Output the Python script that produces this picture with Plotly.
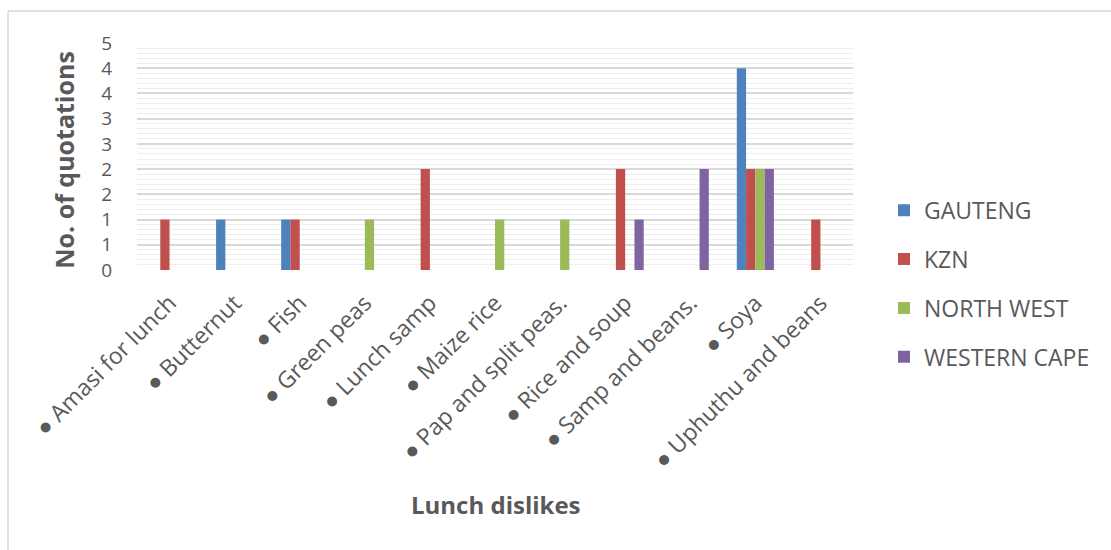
import plotly.graph_objects as go

# Lunch dislikes by province: number of quotations per food item
categories = [
    "Amasi for lunch", "Butternut", "Fish", "Green peas", "Lunch samp",
    "Maize rice", "Pap and split peas.", "Rice and soup", "Samp and beans.",
    "Soya", "Uphuthu and beans",
]
gauteng = [0, 1, 1, 0, 0, 0, 0, 0, 0, 4, 0]
kzn = [1, 0, 1, 0, 2, 0, 0, 2, 0, 2, 1]
north_west = [0, 0, 0, 1, 0, 1, 1, 0, 0, 2, 0]
western_cape = [0, 0, 0, 0, 0, 0, 0, 1, 2, 2, 0]

series_names = ["GAUTENG", "KZN", "NORTH WEST", "WESTERN CAPE"]
series_values = [gauteng, kzn, north_west, western_cape]
series_colors = ["#4F81BD", "#C0504D", "#9BBB59", "#8064A2"]

y_tick_values = [0, 0.5, 1, 1.5, 2, 2.5, 3, 3.5, 4, 4.5]
y_tick_labels = ["0", "1", "1", "2", "2", "3", "3", "4", "4", "5"]

FONT = "Open Sans"
TEXT_GREY = "#595959"

W, H = 1111, 550
L, R, T, B = 137, 1111 - 853, 43, 550 - 270.5
PW, PH = W - L - R, H - T - B

fig = go.Figure()
for name, vals, col in zip(series_names, series_values, series_colors):
    fig.add_trace(go.Bar(
        x=["\u25CF " + c for c in categories],
        y=vals,
        name=name,
        legendgroup=name,
        marker=dict(color=col, line=dict(width=0)),
    ))


def px_x(px):
    return (px - L) / PW


def px_y(py):
    return (H - B - py) / PH


fig.update_layout(
    width=W, height=H,
    margin=dict(l=L, r=R, t=T, b=B, autoexpand=False),
    paper_bgcolor="white",
    plot_bgcolor="white",
    barmode="group",
    bargap=0.43,
    bargroupgap=0,
    font=dict(family=FONT, color=TEXT_GREY),
    legend=dict(
        x=px_x(884), y=px_y(189), xanchor="left", yanchor="top",
        font=dict(family=FONT, size=23, color=TEXT_GREY),
        tracegroupgap=16,
        itemwidth=30,
        bgcolor="rgba(0,0,0,0)",
    ),
    xaxis=dict(
        type="category",
        tickangle=-45,
        tickfont=dict(family=FONT, size=23, color=TEXT_GREY),
        ticklabelstandoff=14,
        showgrid=False,
        showline=False,
        ticks="",
        automargin=False,
    ),
    yaxis=dict(
        range=[0, 4.5],
        tickmode="array",
        tickvals=y_tick_values,
        ticktext=y_tick_labels,
        tickfont=dict(family=FONT, size=19, color=TEXT_GREY),
        ticklabelstandoff=24,
        showgrid=True,
        gridcolor="#D9D9D9",
        gridwidth=1.5,
        zeroline=False,
        showline=False,
        ticks="",
        automargin=False,
        minor=dict(tick0=0, dtick=0.1, showgrid=True,
                   gridcolor="#EEEEEE", gridwidth=1),
    ),
    annotations=[
        dict(text="<b>No. of quotations</b>", textangle=-90,
             xref="paper", yref="paper", x=px_x(64), y=px_y(160),
             xanchor="center", yanchor="middle", showarrow=False,
             font=dict(family=FONT, size=25, color=TEXT_GREY)),
        dict(text="<b>Lunch dislikes</b>",
             xref="paper", yref="paper", x=px_x(496), y=px_y(506),
             xanchor="center", yanchor="middle", showarrow=False,
             font=dict(family=FONT, size=24, color=TEXT_GREY)),
    ],
    shapes=[
        # outer chart frame (left and top edges)
        dict(type="line", xref="paper", yref="paper",
             x0=px_x(8), x1=px_x(8), y0=px_y(H + 5), y1=px_y(11),
             line=dict(color="#D9D9D9", width=1.5)),
        dict(type="line", xref="paper", yref="paper",
             x0=px_x(8), x1=px_x(W + 5), y0=px_y(11), y1=px_y(11),
             line=dict(color="#D9D9D9", width=1.5)),
    ],
)

fig.write_html("out.html")
